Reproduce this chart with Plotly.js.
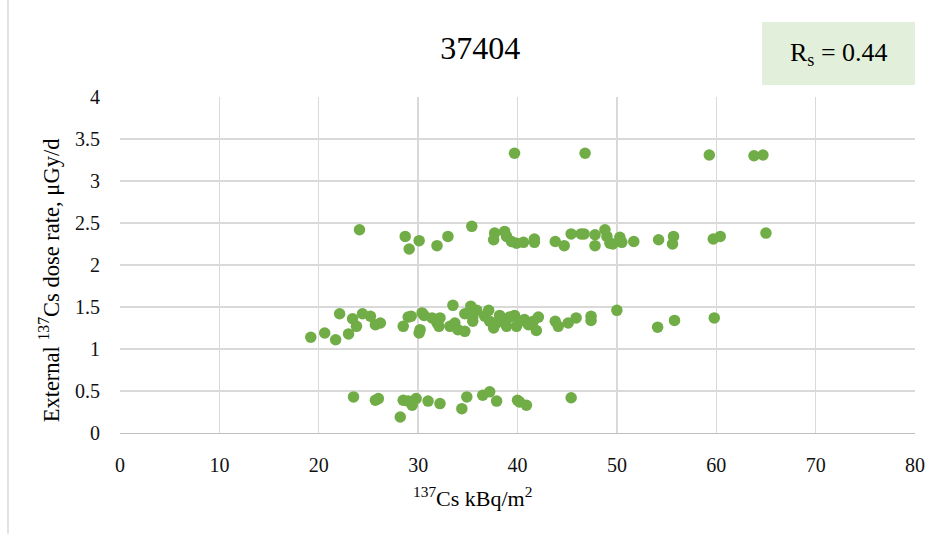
<!DOCTYPE html>
<html>
<head>
<meta charset="utf-8">
<script src="https://cdn.plot.ly/plotly-3.0.1.min.js"></script>
<style>html,body{margin:0;padding:0;background:#fff;}#chart{width:940px;height:534px;}</style>
</head>
<body>
<div id="chart"></div>
<script>
// 137Cs deposition, kBq/m2
const cs137 = [
  // low band
  23.5, 25.7, 26.0, 28.2, 28.5, 29.0, 29.4, 29.8, 31.0, 32.2, 34.4, 34.9, 36.5, 37.2, 37.9, 40.0, 40.2, 40.9, 45.4,
  // middle band
  19.2, 20.6, 21.7, 22.1, 23.0, 23.4, 23.8, 24.4, 25.2, 25.7, 26.2, 28.5, 29.0, 29.3, 30.2, 30.1, 30.4, 30.6, 31.4, 31.9,
  32.2, 32.1, 33.5, 33.2, 33.7, 34.0, 34.7, 34.7, 35.3, 35.5, 35.9, 35.5, 37.1, 36.7, 37.2, 37.6, 37.9, 38.2, 38.6, 38.9,
  39.2, 39.7, 39.9, 40.2, 40.7, 41.1, 41.6, 42.1, 41.9, 43.8, 44.1, 45.1, 45.9, 47.4, 47.4, 50.0, 54.1, 55.8, 59.8,
  // upper band
  24.1, 28.7, 29.1, 30.1, 31.9, 33.0, 35.4, 37.7, 37.6, 38.7, 38.9, 39.4, 39.9, 40.6, 41.7, 41.7, 43.8, 44.7, 45.4, 46.4,
  46.7, 47.8, 47.8, 48.8, 49.0, 49.3, 49.6, 50.3, 50.5, 51.7, 54.2, 55.7, 55.6, 59.7, 60.4, 65.0,
  // top band
  39.7, 46.8, 59.3, 63.8, 64.7
];
// External 137Cs dose rate, µGy/d
const doseRate = [
  0.43, 0.39, 0.41, 0.19, 0.39, 0.38, 0.33, 0.41, 0.38, 0.35, 0.29, 0.43, 0.45, 0.49, 0.38, 0.39, 0.37, 0.33, 0.42,
  1.14, 1.19, 1.11, 1.42, 1.18, 1.36, 1.27, 1.42, 1.39, 1.29, 1.31, 1.27, 1.38, 1.39, 1.23, 1.19, 1.43, 1.40, 1.37, 1.31,
  1.37, 1.27, 1.52, 1.27, 1.31, 1.23, 1.21, 1.42, 1.51, 1.38, 1.46, 1.33, 1.46, 1.39, 1.33, 1.25, 1.31, 1.40, 1.33, 1.27,
  1.38, 1.40, 1.27, 1.33, 1.35, 1.29, 1.33, 1.38, 1.22, 1.33, 1.27, 1.31, 1.37, 1.39, 1.34, 1.46, 1.26, 1.34, 1.37,
  2.42, 2.34, 2.19, 2.29, 2.23, 2.34, 2.46, 2.38, 2.30, 2.40, 2.34, 2.28, 2.26, 2.27, 2.31, 2.27, 2.28, 2.23, 2.37, 2.37,
  2.37, 2.36, 2.23, 2.42, 2.34, 2.26, 2.25, 2.33, 2.27, 2.28, 2.30, 2.34, 2.25, 2.31, 2.34, 2.38,
  3.33, 3.33, 3.31, 3.30, 3.31
];
const chartTitle = "37404";
const rsLabel = "R<sub>s</sub> = 0.44";
const xTitle = "<sup>137</sup>Cs kBq/m<sup>2</sup>";
const yTitle = "External <sup>137</sup>Cs dose rate, μGy/d";
const xTickVals = [0, 10, 20, 30, 40, 50, 60, 70, 80];
const yTickVals = [0, 0.5, 1, 1.5, 2, 2.5, 3, 3.5, 4];
const yTickText = ["0", "0.5", "1", "1.5", "2", "2.5", "3", "3.5", "4"];

const serif = "Liberation Serif";

const trace = {
  x: cs137, y: doseRate, type: "scatter", mode: "markers",
  marker: {color: "#70ad47", size: 11.5, line: {width: 0}},
  hoverinfo: "skip"
};

const layout = {
  width: 940, height: 534,
  paper_bgcolor: "#ffffff", plot_bgcolor: "#ffffff",
  margin: {l: 120, r: 25, t: 97, b: 101},
  showlegend: false,
  font: {family: serif},
  title: {text: chartTitle, font: {family: serif, size: 32, color: "#000"}, x: 0.511, xanchor: "center", y: 0.91, yanchor: "middle"},
  xaxis: {
    range: [0, 80], tickvals: xTickVals, ticks: "", showline: true, linecolor: "#bfbfbf", linewidth: 1.3,
    showgrid: true, gridcolor: "#d9d9d9", gridwidth: 1.3, zeroline: false,
    tickfont: {family: serif, size: 20, color: "#111"}, ticklabelstandoff: 14
  },
  yaxis: {
    range: [0, 4], tickvals: yTickVals, ticktext: yTickText, ticks: "", showline: false,
    showgrid: true, gridcolor: "#d9d9d9", gridwidth: 1.3, zeroline: false,
    tickfont: {family: serif, size: 20, color: "#111"}, ticklabelstandoff: 19
  },
  shapes: [
    {type: "rect", xref: "paper", yref: "paper", x0: 0.8075, x1: 1.0, y0: 1.036, y1: 1.223, fillcolor: "#e2efda", line: {width: 0}, layer: "below"},
    {type: "line", xref: "paper", yref: "paper", x0: -0.1409, x1: -0.1409, y0: -0.30, y1: 1.29, line: {color: "#d9d9d9", width: 1.5}}
  ],
  annotations: [
    {text: rsLabel, xref: "paper", yref: "paper", x: 0.904, y: 1.129, xanchor: "center", yanchor: "middle", showarrow: false,
     font: {family: serif, size: 26, color: "#000"}},
    {text: xTitle, xref: "paper", yref: "paper", x: 0.443, y: -0.19, xanchor: "center", yanchor: "middle", showarrow: false,
     font: {family: serif, size: 22, color: "#000"}},
    {text: yTitle, xref: "paper", yref: "paper", x: -0.089, y: 0.455, xanchor: "center", yanchor: "middle", showarrow: false,
     textangle: -90, font: {family: serif, size: 22.5, color: "#000"}}
  ]
};

Plotly.newPlot("chart", [trace], layout, {displayModeBar: false, staticPlot: true});
</script>
</body>
</html>
